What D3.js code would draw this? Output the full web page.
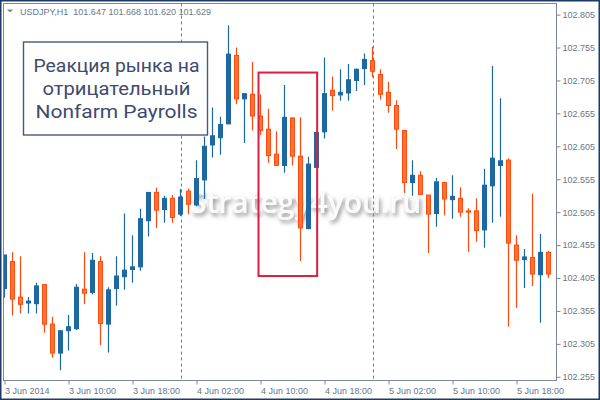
<!DOCTYPE html>
<html>
<head>
<meta charset="utf-8">
<script src="https://cdn.jsdelivr.net/npm/d3@7"></script>
<style>
  html, body { margin: 0; padding: 0; background: #fff; }
  svg { display: block; }
</style>
</head>
<body>
<script>
// ---- data ----
const symbolHeader = "USDJPY,H1  101.647 101.668 101.620 101.629";
const firstBar = "2014-06-03T02:00";   // hourly bars (H1)
const openVals = [102.389,102.430,102.376,102.367,102.366,102.395,102.335,102.291,102.325,102.328,
  102.388,102.383,102.430,102.335,102.389,102.407,102.418,102.422,102.492,102.535,
  102.509,102.526,102.502,102.537,102.516,102.554,102.607,102.618,102.639,102.743,
  102.677,102.684,102.651,102.631,102.593,102.576,102.648,102.590,102.480,102.573,
  102.627,102.690,102.683,102.686,102.705,102.723,102.735,102.714,102.687,102.667,
  102.629,102.550,102.561,102.531,102.503,102.550,102.524,102.526,102.507,102.507,
  102.478,102.545,102.576,102.584,102.455,102.433,102.436,102.410,102.444];
const highVals = [102.440,102.444,102.438,102.376,102.398,102.396,102.346,102.325,102.349,102.396,
  102.444,102.443,102.438,102.391,102.438,102.503,102.470,102.510,102.535,102.542,
  102.530,102.531,102.540,102.541,102.584,102.620,102.664,102.650,102.789,102.755,
  102.685,102.733,102.684,102.662,102.628,102.698,102.649,102.649,102.589,102.626,
  102.740,102.711,102.722,102.730,102.723,102.746,102.756,102.722,102.703,102.675,
  102.630,102.584,102.567,102.531,102.557,102.551,102.561,102.543,102.511,102.526,
  102.571,102.727,102.678,102.587,102.470,102.449,102.533,102.472,102.446];
const lowVals = [102.375,102.348,102.351,102.351,102.351,102.322,102.284,102.265,102.295,102.326,
  102.365,102.380,102.303,102.292,102.363,102.387,102.398,102.416,102.468,102.481,
  102.489,102.489,102.499,102.502,102.514,102.525,102.588,102.592,102.639,102.669,
  102.610,102.629,102.622,102.580,102.575,102.565,102.576,102.431,102.479,102.573,
  102.617,102.659,102.674,102.674,102.689,102.698,102.710,102.676,102.656,102.601,
  102.534,102.530,102.532,102.443,102.483,102.500,102.495,102.498,102.445,102.460,
  102.451,102.489,102.498,102.331,102.360,102.390,102.393,102.337,102.405];
const closeVals = [102.440,102.373,102.365,102.370,102.393,102.335,102.291,102.325,102.331,102.391,
  102.382,102.432,102.336,102.387,102.408,102.417,102.422,102.495,102.535,102.508,
  102.526,102.497,102.528,102.517,102.556,102.605,102.621,102.638,102.745,102.677,
  102.685,102.651,102.629,102.591,102.576,102.649,102.590,102.481,102.578,102.626,
  102.685,102.682,102.687,102.706,102.722,102.737,102.719,102.684,102.667,102.631,
  102.550,102.561,102.532,102.502,102.551,102.525,102.529,102.505,102.505,102.477,
  102.546,102.587,102.583,102.458,102.432,102.437,102.411,102.444,102.411];
const yTickValues = [102.805,102.755,102.705,102.655,102.605,102.555,102.505,102.455,102.405,102.355,102.305,102.255];
const xTickTimes = ["2014-06-03T02:00","2014-06-03T10:00","2014-06-03T18:00","2014-06-04T02:00","2014-06-04T10:00","2014-06-04T18:00","2014-06-05T02:00","2014-06-05T10:00","2014-06-05T18:00"];
const xTickLabels = ["3 Jun 2014","3 Jun 10:00","3 Jun 18:00","4 Jun 02:00","4 Jun 10:00","4 Jun 18:00","5 Jun 02:00","5 Jun 10:00","5 Jun 18:00"];
const daySeparators = ["2014-06-04T00:00","2014-06-05T00:00"];
const highlightTimes = ["2014-06-04T09:45","2014-06-04T17:05"];
const highlightPrices = [102.717, 102.408];
const titleLines = ["Реакция рынка на","отрицательный","Nonfarm Payrolls"];
const watermark = "Strategy4you.ru";

// ---- setup ----
const W = 600, H = 400;
const plot = {left: 3.5, top: 3.5, right: 556.5, bottom: 380.5};
const parse = d3.timeParse("%Y-%m-%dT%H:%M");
const t0 = parse(firstBar);
const bars = openVals.map((o, i) => ({
  t: d3.timeHour.offset(t0, i), o, h: highVals[i], l: lowVals[i], c: closeVals[i]
}));

const x = d3.scaleTime()
  .domain([t0, d3.timeHour.offset(t0, bars.length - 1)])
  .range([4.5, 4.5 + 8 * (bars.length - 1)]);
const y = d3.scaleLinear().domain([102.255, 102.805]).range([376.8, 14.6]);

const svg = d3.select("body").append("svg").attr("width", W).attr("height", H);
svg.append("rect").attr("width", W).attr("height", H).attr("fill", "#fff");

const defs = svg.append("defs");
defs.append("clipPath").attr("id", "plotclip").append("rect")
  .attr("x", plot.left).attr("y", plot.top)
  .attr("width", plot.right - plot.left).attr("height", plot.bottom - plot.top);
const f = defs.append("filter").attr("id", "wmshadow")
  .attr("x", "-10%").attr("y", "-30%").attr("width", "130%").attr("height", "180%");
f.append("feGaussianBlur").attr("in", "SourceAlpha").attr("stdDeviation", 2.2).attr("result", "b");
f.append("feOffset").attr("in", "b").attr("dx", 2).attr("dy", 3).attr("result", "o");
f.append("feFlood").attr("flood-color", "#808080").attr("flood-opacity", 0.85);
f.append("feComposite").attr("in2", "o").attr("operator", "in").attr("result", "s");
const fm = f.append("feMerge");
fm.append("feMergeNode").attr("in", "s");
fm.append("feMergeNode").attr("in", "SourceGraphic");

// watermark
svg.append("text")
  .attr("x", 190).attr("y", 213)
  .attr("font-family", "'Open Sans', sans-serif")
  .attr("font-size", 30).attr("font-weight", 600)
  .attr("fill", "#fbfbfb")
  .attr("filter", "url(#wmshadow)")
  .text(watermark);

const g = svg.append("g").attr("clip-path", "url(#plotclip)");

// day separators
g.selectAll("line.sep").data(daySeparators).join("line")
  .attr("class", "sep")
  .attr("x1", d => Math.round(x(parse(d))) + 0.5).attr("x2", d => Math.round(x(parse(d))) + 0.5)
  .attr("y1", plot.top).attr("y2", plot.bottom)
  .attr("stroke", "#6f7a8a").attr("stroke-width", 1).attr("stroke-dasharray", "3,3");

// candles
const bullCol = "#1d68a2", bearFill = "#ff7436", bearStroke = "#ff4a0f";
const cg = g.selectAll("g.c").data(bars).join("g").attr("class", "c");
cg.append("line")
  .attr("x1", d => x(d.t)).attr("x2", d => x(d.t))
  .attr("y1", d => y(d.h)).attr("y2", d => y(d.l))
  .attr("stroke", d => d.c >= d.o ? bullCol : bearStroke).attr("stroke-width", 1.2);
cg.append("rect")
  .attr("x", d => x(d.t) - 2).attr("width", 4)
  .attr("y", d => y(Math.max(d.o, d.c)))
  .attr("height", d => Math.max(0.5, Math.abs(y(d.o) - y(d.c))))
  .attr("fill", d => d.c >= d.o ? bullCol : bearFill)
  .attr("stroke", d => d.c >= d.o ? bullCol : bearStroke).attr("stroke-width", 1);

// highlight rectangle
const hx0 = x(parse(highlightTimes[0])), hx1 = x(parse(highlightTimes[1]));
const hy0 = y(highlightPrices[0]), hy1 = y(highlightPrices[1]);
svg.append("rect")
  .attr("x", hx0).attr("y", hy0).attr("width", hx1 - hx0).attr("height", hy1 - hy0)
  .attr("fill", "none").attr("stroke", "#dc1f3f").attr("stroke-width", 2);

// plot frame
svg.append("rect")
  .attr("x", plot.left).attr("y", plot.top)
  .attr("width", plot.right - plot.left).attr("height", plot.bottom - plot.top)
  .attr("fill", "none").attr("stroke", "#7c8696").attr("stroke-width", 1);

const axisColor = "#7c8696", textColor = "#6a7688";
// y axis (right)
const ya = svg.append("g").attr("transform", `translate(${plot.right},0)`)
  .call(d3.axisRight(y).tickValues(yTickValues).tickSize(4).tickPadding(2).tickFormat(d3.format(".3f")));
ya.select(".domain").remove();
ya.selectAll(".tick line").attr("stroke", axisColor);
ya.selectAll(".tick text").attr("fill", textColor)
  .attr("font-family", "'Liberation Sans', Arial, sans-serif").attr("font-size", 9);

// x axis (bottom)
const xa = svg.append("g").attr("transform", `translate(0,${plot.bottom})`)
  .call(d3.axisBottom(x).tickValues(xTickTimes.map(parse)).tickSize(4)
    .tickFormat((d, i) => xTickLabels[i]));
xa.select(".domain").remove();
xa.selectAll(".tick line").attr("stroke", axisColor);
xa.selectAll(".tick text").attr("fill", textColor)
  .attr("font-family", "'Liberation Sans', Arial, sans-serif").attr("font-size", 9)
  .attr("text-anchor", "start").attr("x", 0).attr("y", 13.5).attr("dy", 0);

// header
svg.append("path").attr("d", "M7,9.5 L13,9.5 L10,12.5 Z").attr("fill", "#7c8696");
svg.append("text").attr("x", 20).attr("y", 15.3)
  .attr("font-family", "'Liberation Sans', Arial, sans-serif").attr("font-size", 9)
  .attr("fill", textColor).attr("xml:space", "preserve").style("white-space", "pre")
  .text(symbolHeader);

// title box
const box = {x: 23.5, y: 42, w: 184, h: 93};
const lineWidths = [166, 148, 162];
svg.append("rect").attr("x", box.x).attr("y", box.y).attr("width", box.w).attr("height", box.h)
  .attr("fill", "#fff").attr("stroke", "#465a7a").attr("stroke-width", 1.4);
svg.append("g").selectAll("text").data(titleLines).join("text")
  .attr("font-family", "Roboto, sans-serif").attr("font-size", 19)
  .attr("fill", "#3e4a6e").attr("text-anchor", "middle")
  .attr("x", box.x + box.w / 2 + 1).attr("y", (d, i) => 72 + i * 23)
  .attr("textLength", (d, i) => lineWidths[i]).attr("lengthAdjust", "spacingAndGlyphs")
  .text(d => d);

// outer border
svg.append("rect").attr("x", 0.75).attr("y", 0.75).attr("width", W - 1.5).attr("height", H - 1.5)
  .attr("fill", "none").attr("stroke", "#1c3a66").attr("stroke-width", 1.5);
</script>
</body>
</html>
